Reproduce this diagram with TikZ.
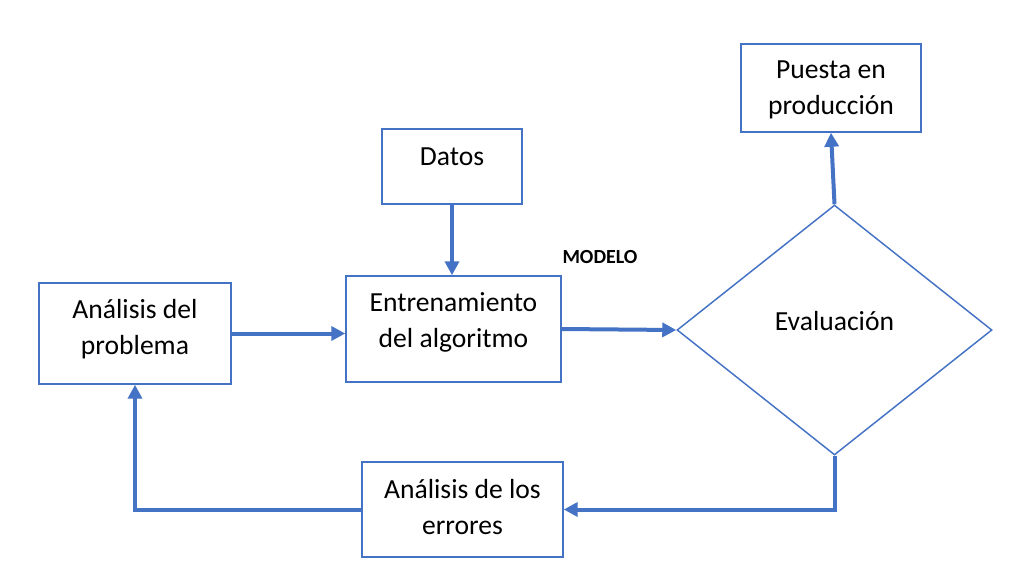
\documentclass[tikz,border=0pt]{standalone}
\usepackage{fontspec}
\setmainfont{Carlito}
\usetikzlibrary{shapes.geometric,arrows.meta}
\definecolor{boxblue}{RGB}{68,114,196}
\tikzset{
  caja/.style={draw=boxblue, line width=1.1pt, rectangle, align=center, inner sep=0pt,
    font=\fontsize{20.7}{27}\selectfont},
  rombo/.style={draw=boxblue, line width=1.1pt, diamond, inner sep=0pt,
    font=\fontsize{20.7}{27}\selectfont},
  subir/.style={text depth=#1},
  flecha/.style={draw=boxblue, line width=3pt, -{Triangle[length=10.5pt,width=10.5pt]}}
}
\begin{document}
\begin{tikzpicture}[x=0.75pt,y=0.75pt,yscale=-1,xscale=1]
            \useasboundingbox (0,0) rectangle (1032,586);

            %Shape: Rectangle [id:puesta]
            \node (produccion) at (831,88) [caja, subir=1pt, minimum width=135pt, minimum height=66pt] {Puesta en\\producción};
            %Shape: Rectangle [id:datos]
            \node (datos) at (452,166.5) [caja, subir=15pt, minimum width=105pt, minimum height=56.25pt] {Datos};
            %Shape: Rectangle [id:problema]
            \node (problema) at (135,333.5) [caja, subir=10pt, minimum width=144pt, minimum height=75.75pt] {Análisis del\\problema};
            %Shape: Rectangle [id:entrena]
            \node (entrena) at (453.5,329) [caja, subir=13pt, minimum width=161.25pt, minimum height=79.5pt] {Entrenamiento\\del algoritmo};
            %Shape: Diamond [id:eval]
            \node (eval) at (834.5,330) [rombo, subir=13.5pt, minimum width=236.25pt, minimum height=187.5pt] {Evaluación};
            %Shape: Rectangle [id:errores]
            \node (errores) at (462.5,509.5) [caja, subir=4pt, minimum width=150.75pt, minimum height=71.25pt] {Análisis de los\\errores};

            % Text Node
            \node (modelo) at (600,257) [font=\fontsize{15}{18}\selectfont\bfseries] {MODELO};

            %Straight Lines
            \draw [flecha] (datos.south) -- (datos.south |- entrena.north);
            \draw [flecha] (problema.east) -- (problema.east -| entrena.west);
            \draw [flecha] (entrena.east) -- (eval.west);
            \draw [flecha] (eval.north) -- (produccion.south);
            %Connector Lines
            \draw [flecha] (eval.south) |- (errores.east);
            \draw [flecha] (errores.west) -| (problema.south);

        \end{tikzpicture}
\end{document}
